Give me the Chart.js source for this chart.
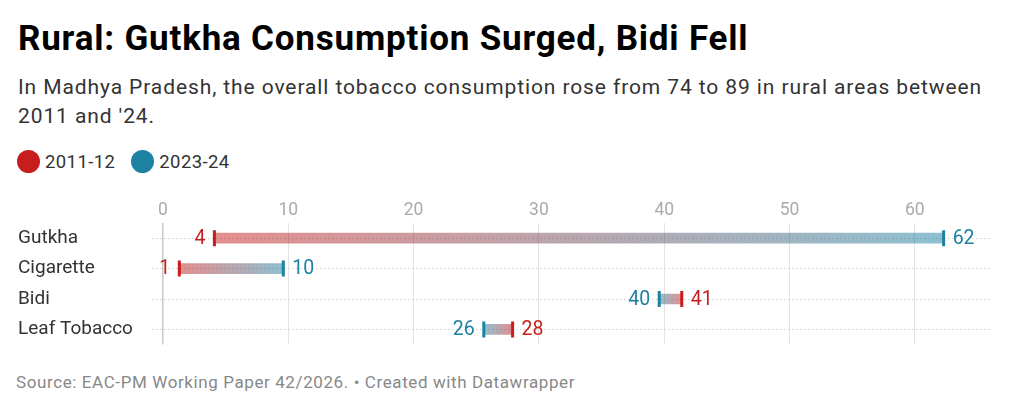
<!DOCTYPE html>
<html>
<head>
<meta charset="utf-8">
<script src="https://cdn.jsdelivr.net/npm/chart.js@4"></script>
<style>
    body {
        margin: 0;
        width: 1024px;
        height: 413px;
        background: #fff;
        font-family: Roboto, Arial, sans-serif;
        position: relative;
        overflow: hidden;
    }

    h1 {
        position: absolute;
        left: 18px;
        top: 18px;
        margin: 0;
        font-size: 35px;
        font-weight: 700;
        color: #000;
        letter-spacing: 0.8px;
        line-height: 42px;
    }

    .sub {
        position: absolute;
        left: 18px;
        top: 73px;
        width: 1000px;
        font-size: 21px;
        letter-spacing: 0.9px;
        line-height: 29px;
        color: #333;
    }

    .legend {
        position: absolute;
        left: 17px;
        top: 150px;
        display: flex;
        align-items: center;
        font-size: 18.5px;
        letter-spacing: 0.4px;
        color: #333;
    }

    .legend span.dot {
        display: inline-block;
        width: 23px;
        height: 23px;
        border-radius: 50%;
        margin-right: 5px;
    }

    .legend .item {
        display: flex;
        align-items: center;
        margin-right: 16px;
    }

    #wrap {
        position: absolute;
        left: 0;
        top: 191px;
        width: 1024px;
        height: 165px;
    }

    .source {
        position: absolute;
        left: 16px;
        top: 372px;
        font-size: 17px;
        letter-spacing: 0.6px;
        color: #888;
    }
</style>
</head>
<body>
<h1>Rural: Gutkha Consumption Surged, Bidi Fell</h1>
<div class="sub">In Madhya Pradesh, the overall tobacco consumption rose from 74 to 89 in rural areas between 2011 and '24.</div>
<div class="legend">
    <div class="item"><span class="dot" style="background:#c71e1d"></span>2011-12</div>
    <div class="item"><span class="dot" style="background:#1d81a2"></span>2023-24</div>
</div>
<div id="wrap"><canvas id="chart"></canvas></div>
<div class="source">Source: EAC-PM Working Paper 42/2026. • Created with Datawrapper</div>

<script>
// datos
const categories = ["Gutkha", "Cigarette", "Bidi", "Leaf Tobacco"];
const values2011 = [4.1, 1.3, 41.4, 27.9];
const values2023 = [62.3, 9.6, 39.6, 25.6];
const xTicks = [0, 10, 20, 30, 40, 50, 60];

const RED = "#c71e1d";
const BLUE = "#1d81a2";

// degradado rojo -> azul entre los dos extremos de cada barra
function barGradient(ctx) {
    const chart = ctx.chart;
    const x = chart.scales.x;
    if (!x || ctx.dataIndex === undefined) return "rgba(150,150,150,0.5)";
    const i = ctx.dataIndex;
    const x0 = x.getPixelForValue(values2011[i]);
    const x1 = x.getPixelForValue(values2023[i]);
    if (!isFinite(x0) || !isFinite(x1) || x0 === x1) return "rgba(150,150,150,0.5)";
    const g = chart.ctx.createLinearGradient(x0, 0, x1, 0);
    g.addColorStop(0, "rgba(199,30,29,0.5)");
    g.addColorStop(1, "rgba(29,129,162,0.5)");
    return g;
}

// etiquetas de valor al lado de cada marca
const valueLabels = {
    id: "valueLabels",
    afterDatasetsDraw(chart) {
        const ctx = chart.ctx;
        ctx.save();
        ctx.font = "19.5px Roboto";
        ctx.textBaseline = "middle";
        [1, 2].forEach(di => {
            const meta = chart.getDatasetMeta(di);
            const own = di === 1 ? values2011 : values2023;
            const other = di === 1 ? values2023 : values2011;
            ctx.fillStyle = di === 1 ? RED : BLUE;
            meta.data.forEach((pt, i) => {
                const right = own[i] >= other[i];
                ctx.textAlign = right ? "left" : "right";
                const x = pt.x + (right ? 9 : -9);
                ctx.fillText(String(Math.round(own[i])), x, pt.y + 1);
            });
        });
        ctx.restore();
    }
};

const ctx = document.getElementById("chart");

new Chart(ctx, {
    data: {
        labels: categories,
        datasets: [
            {
                type: "bar",
                indexAxis: "y",
                data: values2011.map((v, i) => [v, values2023[i]]),
                backgroundColor: barGradient,
                borderWidth: 0,
                borderSkipped: false,
                barThickness: 10,
                order: 2
            },
            {
                type: "scatter",
                label: "2011-12",
                data: values2011.map((v, i) => ({ x: v, y: categories[i] })),
                pointStyle: "line",
                rotation: 90,
                radius: 8,
                borderWidth: 3,
                borderColor: RED,
                backgroundColor: RED,
                order: 1
            },
            {
                type: "scatter",
                label: "2023-24",
                data: values2023.map((v, i) => ({ x: v, y: categories[i] })),
                pointStyle: "line",
                rotation: 90,
                radius: 8,
                borderWidth: 3,
                borderColor: BLUE,
                backgroundColor: BLUE,
                order: 1
            }
        ]
    },
    options: {
        responsive: true,
        maintainAspectRatio: false,
        animation: false,
        layout: {
            padding: { left: 18, right: 34, top: 0, bottom: 2 }
        },
        plugins: {
            legend: { display: false },
            tooltip: { enabled: false }
        },
        scales: {
            x: {
                type: "linear",
                position: "top",
                min: -0.88,
                max: 66,
                afterBuildTicks: s => { s.ticks = xTicks.map(v => ({ value: v })); },
                afterFit: s => { s.height = 32; },
                ticks: {
                    color: "#aaa",
                    font: { family: "Roboto", size: 17.5 },
                    padding: 2
                },
                grid: {
                    drawTicks: false,
                    color: c => c.tick && c.tick.value === 0 ? "#c8c8c8" : "#e3e3e3",
                    lineWidth: c => c.tick && c.tick.value === 0 ? 1.5 : 1
                },
                border: { display: false }
            },
            y: {
                type: "category",
                labels: categories,
                offset: true,
                afterFit: s => { s.width = 134; },
                ticks: {
                    crossAlign: "far",
                    color: "#333",
                    font: { family: "Roboto", size: 19 },
                    padding: 0
                },
                grid: {
                    offset: false,
                    drawTicks: false,
                    color: "#cfcfcf",
                    lineWidth: 1
                },
                border: { display: false, dash: [1.5, 2.5] }
            }
        }
    },
    plugins: [valueLabels]
});
</script>
</body>
</html>
